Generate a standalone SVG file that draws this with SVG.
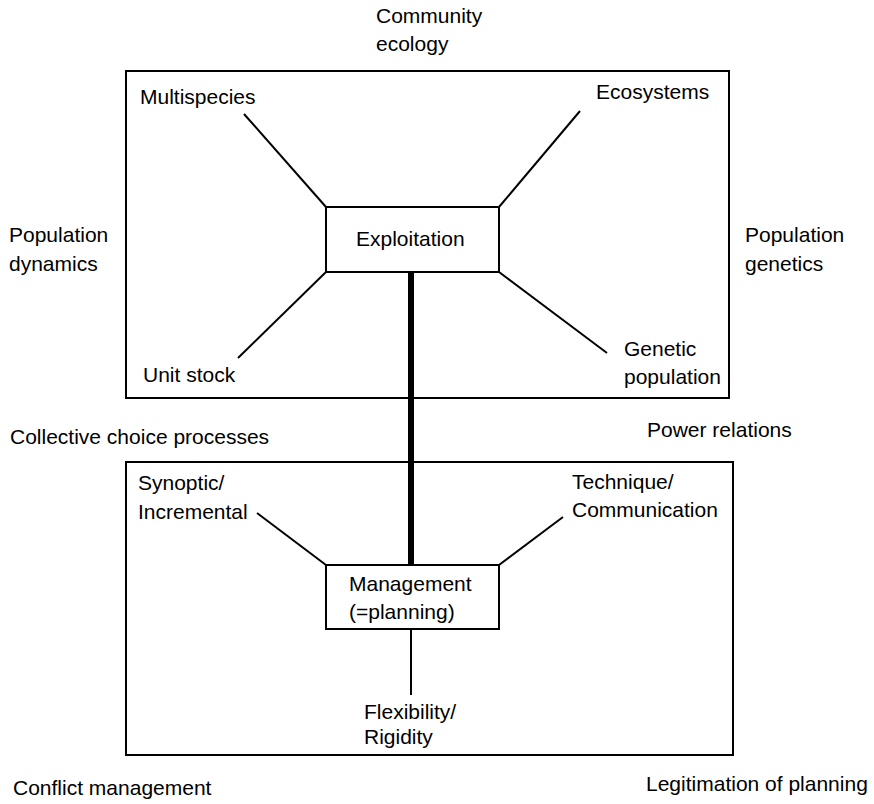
<svg xmlns="http://www.w3.org/2000/svg" width="874" height="804" viewBox="0 0 874 804">
<style>
text{font-family:"Liberation Sans",Arial,sans-serif;font-size:21px;fill:#000}
.box{fill:none;stroke:#000;stroke-width:2}
.ln{stroke:#000;stroke-width:2;fill:none}
.thick{stroke:#000;stroke-width:6;fill:none}
</style>
<rect width="874" height="804" fill="#fff"/>
<g id="frame-top"><rect class="box" x="126" y="71" width="603" height="327"/></g>
<g id="frame-bottom"><rect class="box" x="126" y="462" width="607" height="293"/></g>
<g id="connectors">
<line class="ln" x1="244" y1="114" x2="326" y2="207"/>
<line class="ln" x1="580" y1="111" x2="499" y2="207"/>
<line class="ln" x1="326" y1="272" x2="238" y2="358"/>
<line class="ln" x1="499" y1="272" x2="607" y2="353"/>
<line class="thick" x1="411" y1="272" x2="411" y2="565"/>
<line class="ln" x1="257" y1="513" x2="326" y2="565"/>
<line class="ln" x1="563" y1="517" x2="499" y2="565"/>
<line class="ln" x1="411" y1="629" x2="411" y2="695"/>
</g>
<g id="exploitation"><rect class="box" x="326" y="207" width="173" height="65" fill="#fff"/><text x="356" y="246">Exploitation</text></g>
<g id="management"><rect class="box" x="326" y="565" width="173" height="64" fill="#fff"/><text x="349" y="591">Management</text><text x="349" y="619">(=planning)</text></g>
<g id="multispecies"><text x="140" y="104">Multispecies</text></g>
<g id="ecosystems"><text x="596" y="99">Ecosystems</text></g>
<g id="unit-stock"><text x="143" y="382">Unit stock</text></g>
<g id="genetic-population"><text x="624" y="356">Genetic</text><text x="624" y="384">population</text></g>
<g id="synoptic"><text x="138" y="490">Synoptic/</text><text x="138" y="519">Incremental</text></g>
<g id="technique"><text x="572" y="489">Technique/</text><text x="572" y="517">Communication</text></g>
<g id="flexibility"><text x="364" y="719">Flexibility/</text><text x="364" y="744">Rigidity</text></g>
<g id="community-ecology"><text x="376" y="23">Community</text><text x="376" y="51">ecology</text></g>
<g id="population-dynamics"><text x="9" y="242">Population</text><text x="9" y="271">dynamics</text></g>
<g id="population-genetics"><text x="745" y="242">Population</text><text x="745" y="271">genetics</text></g>
<g id="collective"><text x="10" y="444">Collective choice processes</text></g>
<g id="power"><text x="647" y="437">Power relations</text></g>
<g id="conflict"><text x="13" y="795">Conflict management</text></g>
<g id="legitimation"><text x="646" y="791">Legitimation of planning</text></g>
</svg>
